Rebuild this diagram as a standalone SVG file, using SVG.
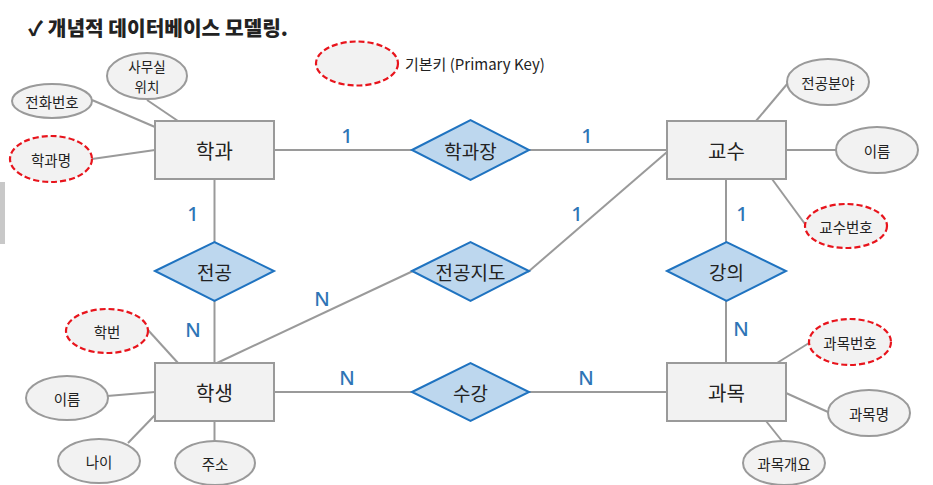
<svg xmlns="http://www.w3.org/2000/svg" width="933" height="485" viewBox="0 0 933 485">
<style>
text{font-family:"Noto Sans CJK KR","Noto Sans",sans-serif;fill:#222;text-anchor:middle;dominant-baseline:central}
.ent{fill:#f2f2f2;stroke:#9a9a9a;stroke-width:2}
.rel{fill:#bdd7ee;stroke:#1f73c0;stroke-width:2}
.att{fill:#f2f2f2;stroke:#9a9a9a;stroke-width:2}
.pk{fill:#f2f2f2;stroke:#e8141c;stroke-width:2.2;stroke-dasharray:6 3}
.ln{stroke:#9a9a9a;stroke-width:2;fill:none}
.big{font-size:20px}
.mid{font-size:19px}
.sm{font-size:14.5px}
.card{font-family:"Noto Sans","Open Sans",sans-serif;font-size:20px;font-weight:500;fill:#2e75b6}
</style>
<rect width="933" height="485" fill="#ffffff"/>
<rect x="0" y="182" width="5" height="62" fill="#c8c8c8"/>
<text x="28" y="27" style="text-anchor:start;font-size:20px;font-weight:900" textLength="260" lengthAdjust="spacingAndGlyphs">✓ 개념적 데이터베이스 모델링.</text>
<g id="legend">
<ellipse class="pk" cx="357" cy="63.5" rx="41" ry="22"/>
<text x="405" y="63" style="text-anchor:start;font-size:15px">기본키 (Primary Key)</text>
</g>
<g id="connectors">
<line class="ln" x1="92" y1="100" x2="155" y2="127"/>
<line class="ln" x1="147" y1="100" x2="178" y2="121"/>
<line class="ln" x1="92" y1="159" x2="155" y2="150"/>
<line class="ln" x1="274" y1="150" x2="413" y2="150"/>
<line class="ln" x1="528" y1="150" x2="667" y2="150"/>
<line class="ln" x1="756" y1="121" x2="788" y2="83"/>
<line class="ln" x1="786" y1="150" x2="837" y2="150"/>
<line class="ln" x1="772" y1="179" x2="805" y2="224"/>
<line class="ln" x1="726" y1="179" x2="726" y2="242"/>
<line class="ln" x1="667" y1="152" x2="528" y2="272"/>
<line class="ln" x1="214.5" y1="179" x2="214.5" y2="242"/>
<line class="ln" x1="214.5" y1="301" x2="214.5" y2="363"/>
<line class="ln" x1="217" y1="363" x2="413" y2="271"/>
<line class="ln" x1="274" y1="392" x2="413" y2="392"/>
<line class="ln" x1="529" y1="392" x2="667" y2="392"/>
<line class="ln" x1="726" y1="301" x2="726" y2="363"/>
<line class="ln" x1="148" y1="330" x2="178" y2="363"/>
<line class="ln" x1="107" y1="396" x2="155" y2="392"/>
<line class="ln" x1="128" y1="443" x2="155" y2="415"/>
<line class="ln" x1="214.5" y1="421" x2="214.5" y2="441"/>
<line class="ln" x1="777" y1="363" x2="809" y2="343"/>
<line class="ln" x1="786" y1="393" x2="828" y2="412"/>
<line class="ln" x1="766" y1="421" x2="782" y2="441"/>
<text class="card" x="347" y="135">1</text>
<text class="card" x="587" y="135">1</text>
<text class="card" x="193" y="213">1</text>
<text class="card" x="577" y="213">1</text>
<text class="card" x="742" y="213">1</text>
<text class="card" x="322" y="298">N</text>
<text class="card" x="193" y="329">N</text>
<text class="card" x="741" y="328">N</text>
<text class="card" x="347" y="377">N</text>
<text class="card" x="586" y="377">N</text>
</g>
<g id="학과"><rect class="ent" x="155" y="121" width="119" height="58"/><text class="big" x="214.5" y="150">학과</text></g>
<g id="교수"><rect class="ent" x="667" y="121" width="119" height="58"/><text class="big" x="726.5" y="150">교수</text></g>
<g id="학생"><rect class="ent" x="155" y="363" width="119" height="58"/><text class="big" x="214.5" y="392">학생</text></g>
<g id="과목"><rect class="ent" x="667" y="363" width="119" height="58"/><text class="big" x="726.5" y="392">과목</text></g>
<g id="학과장"><polygon class="rel" points="412,150 470.5,120 529,150 470.5,180"/><text class="mid" x="470.5" y="150">학과장</text></g>
<g id="전공"><polygon class="rel" points="155,271 214.5,242 274,271 214.5,301"/><text class="mid" x="214.5" y="271">전공</text></g>
<g id="전공지도"><polygon class="rel" points="412,271 470.5,242 529,271 470.5,301"/><text class="mid" x="470.5" y="271">전공지도</text></g>
<g id="강의"><polygon class="rel" points="667,271 726.5,242 786,271 726.5,301"/><text class="mid" x="726.5" y="271">강의</text></g>
<g id="수강"><polygon class="rel" points="412,392 470.5,363 529,392 470.5,421"/><text class="mid" x="470.5" y="392">수강</text></g>
<g id="사무실위치"><ellipse class="att" cx="147" cy="76" rx="40" ry="23"/><text x="147" y="66" style="font-size:13.5px">사무실</text><text x="147" y="86" style="font-size:13.5px">위치</text></g>
<g id="전화번호"><ellipse class="att" cx="52" cy="101" rx="40" ry="17"/><text class="sm" x="52" y="101">전화번호</text></g>
<g id="학과명"><ellipse class="pk" cx="51" cy="159" rx="41" ry="23"/><text class="sm" x="51" y="159">학과명</text></g>
<g id="전공분야"><ellipse class="att" cx="828" cy="82" rx="41" ry="23"/><text class="sm" x="828" y="82">전공분야</text></g>
<g id="교수이름"><ellipse class="att" cx="877" cy="150" rx="41" ry="23"/><text class="sm" x="877" y="150">이름</text></g>
<g id="교수번호"><ellipse class="pk" cx="846" cy="226" rx="41" ry="22"/><text class="sm" x="846" y="226">교수번호</text></g>
<g id="학번"><ellipse class="pk" cx="107" cy="331" rx="41" ry="22"/><text class="sm" x="107" y="331">학번</text></g>
<g id="학생이름"><ellipse class="att" cx="67" cy="398" rx="41" ry="22"/><text class="sm" x="67" y="398">이름</text></g>
<g id="나이"><ellipse class="att" cx="99" cy="461" rx="41" ry="22"/><text class="sm" x="99" y="461">나이</text></g>
<g id="주소"><ellipse class="att" cx="215" cy="463" rx="40" ry="22"/><text class="sm" x="215" y="463">주소</text></g>
<g id="과목번호"><ellipse class="pk" cx="850" cy="342" rx="41" ry="23"/><text class="sm" x="850" y="342">과목번호</text></g>
<g id="과목명"><ellipse class="att" cx="869" cy="413" rx="41" ry="23"/><text class="sm" x="869" y="413">과목명</text></g>
<g id="과목개요"><ellipse class="att" cx="784" cy="463" rx="41" ry="22"/><text class="sm" x="784" y="463">과목개요</text></g>
</svg>
